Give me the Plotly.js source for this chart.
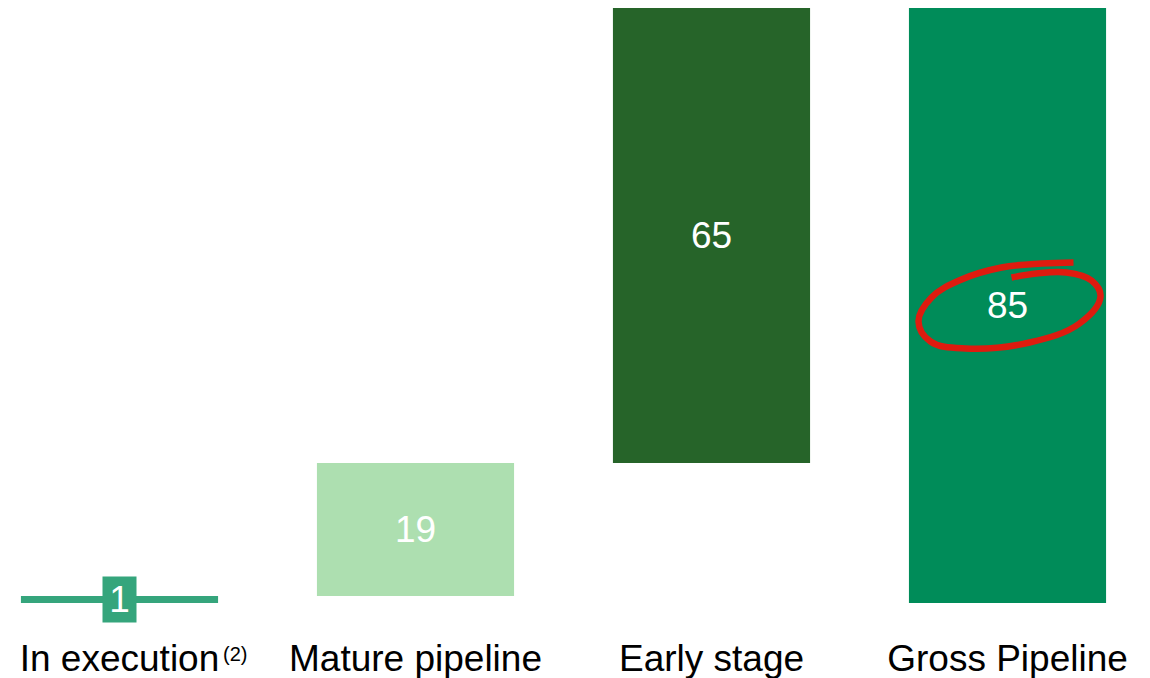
<!DOCTYPE html>
<html>
<head>
<meta charset="utf-8">
<script src="https://cdn.plot.ly/plotly-3.0.1.min.js"></script>
<style>
  html, body { margin: 0; padding: 0; background: #ffffff; }
  #chart { width: 1150px; height: 678px; }
</style>
</head>
<body>
<div id="chart"></div>
<script>
// Pipeline build-up (GW)
const categories = ['In execution', 'Mature pipeline', 'Early stage', 'Gross Pipeline'];
const values = [1, 19, 65, 85];
const isTotal = [false, false, false, true];
const barColors = ['#35a57c', '#addfb0', '#266429', '#008c59'];
const footnote = '(2)';

// waterfall bases: steps stack on the running sum, the total starts at zero
const bases = [];
let running = 0;
values.forEach((v, i) => {
  if (isTotal[i]) { bases.push(0); }
  else { bases.push(running); running += v; }
});

const xs = categories.map((_, i) => i);
const FONT = 'Liberation Sans, Arial, sans-serif';

// hand-drawn highlight loop around the total label, offsets in pixels from the label centre
const loopOffsets = [
  [66, -43], [34, -42], [-6, -38], [-46, -26], [-76, -8], [-89, 16],
  [-77, 36], [-42, 43], [22, 37], [72, 18], [93, -9], [84, -25],
  [59, -33], [29, -32], [4, -28]
];
const PX_PER_X = 296, PX_PER_Y = 7;
const hi = values.length - 1;
const loopX = loopOffsets.map(p => xs[hi] + p[0] / PX_PER_X);
const loopY = loopOffsets.map(p => bases[hi] + values[hi] / 2 - p[1] / PX_PER_Y);

const bars = {
  type: 'bar',
  x: xs,
  y: values,
  base: bases,
  width: 0.666,
  marker: { color: barColors, line: { width: 0 } },
  text: values.map((v, i) => i === 0 ? '' : String(v)),
  textposition: values.map((v, i) => i === 0 ? 'none' : 'inside'),
  insidetextanchor: 'middle',
  textangle: 0,
  textfont: { family: FONT, size: 37, color: '#ffffff' },
  hoverinfo: 'skip',
  showlegend: false
};

const loop = {
  type: 'scatter',
  mode: 'lines',
  x: loopX,
  y: loopY,
  line: { color: '#de1b0f', width: 6.5, shape: 'spline', smoothing: 1.1 },
  hoverinfo: 'skip',
  showlegend: false
};

const layout = {
  width: 1150,
  height: 678,
  margin: { l: 0, r: 0, t: 1, b: 75, pad: 0 },
  paper_bgcolor: '#ffffff',
  plot_bgcolor: '#ffffff',
  xaxis: {
    type: 'linear',
    range: [-0.4037, 3.4814],
    tickvals: xs,
    ticktext: categories,
    tickfont: { family: FONT, size: 37, color: '#000000' },
    ticklabelstandoff: 30,
    showgrid: false, zeroline: false, showline: false, ticks: '',
    fixedrange: true
  },
  yaxis: {
    range: [0, 86],
    visible: false,
    fixedrange: true
  },
  annotations: [
    {
      x: xs[0], y: bases[0] + values[0] / 2, xref: 'x', yref: 'y',
      text: String(values[0]), showarrow: false,
      font: { family: FONT, size: 37, color: '#ffffff' },
      bgcolor: barColors[0], width: 33, height: 45, borderpad: 0,
      xanchor: 'center', yanchor: 'middle'
    },
    {
      x: xs[0], y: 0, xref: 'x', yref: 'paper',
      text: footnote, showarrow: false,
      font: { family: FONT, size: 20, color: '#000000' },
      xanchor: 'left', yanchor: 'top', xshift: 101, yshift: -38
    }
  ]
};

Plotly.newPlot('chart', [bars, loop], layout, { displayModeBar: false, staticPlot: true });
</script>
</body>
</html>
